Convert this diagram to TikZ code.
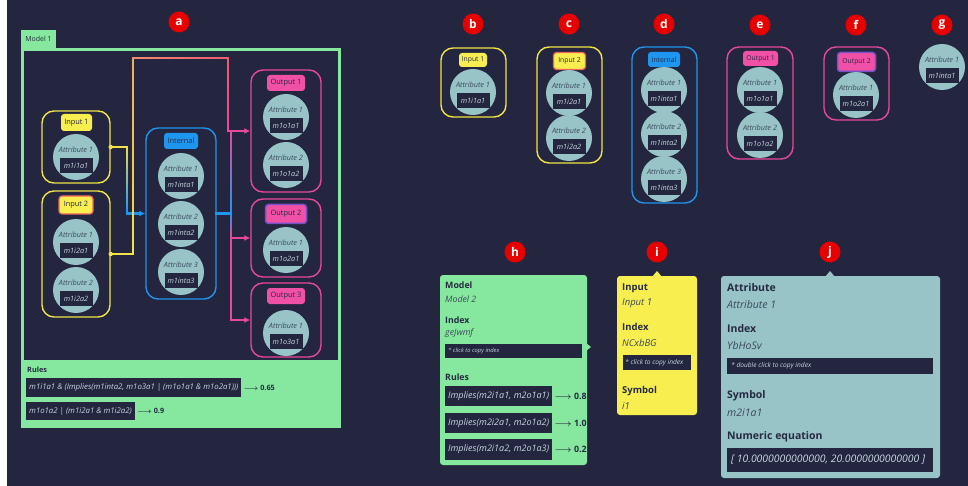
\documentclass[tikz,border=0pt]{standalone}
\usepackage{amsmath}
\usepackage{fontspec}
\setmainfont{Open Sans}
\usetikzlibrary{calc,arrows.meta}
\definecolor{bg}{RGB}{35,38,62}
\definecolor{grn}{RGB}{134,232,158}
\definecolor{yel}{RGB}{240,228,70}
\definecolor{yelf}{RGB}{248,238,80}
\definecolor{salm}{RGB}{240,100,95}
\definecolor{pnk}{RGB}{232,72,152}
\definecolor{pnkf}{RGB}{240,80,165}
\definecolor{purp}{RGB}{120,80,200}
\definecolor{blu}{RGB}{30,150,240}
\definecolor{org}{RGB}{245,170,95}
\definecolor{att}{RGB}{152,196,200}
\definecolor{lite}{RGB}{200,215,225}
\definecolor{txd}{RGB}{38,42,66}
\definecolor{txi}{RGB}{60,72,92}
\definecolor{redl}{RGB}{230,0,0}
\newcommand\gradseg[4]{%
  \foreach \k in {1,...,14}{%
    \pgfmathsetmacro\pc{100-(\k-0.5)*100/14}%
    \draw[conn,draw={#3!\pc!#4}] ($#1!{(\k-1)/14}!#2$) -- ($#1!{\k/14}!#2$);
  }}
\newcommand\attrnode[5]{%
  \node[attr] (#1) at (#2,#3) {};
  \node[attrlab] (#1l) at ([yshift=7.5pt]#1.center) {#4};
  \node[valbox] (#1v) at ([yshift=-8.5pt]#1.center) {#5};}
\newcommand\larr{$\boldsymbol{\longrightarrow}$}
\begin{document}
\begin{tikzpicture}[x=1pt,y=-1pt,
  grp/.style={draw, line width=1.4pt, rounded corners=12pt, inner sep=0},
  pill/.style={rounded corners=3pt, inner sep=0, font=\fontsize{7.4}{8}\selectfont, text=txd},
  attr/.style={circle, fill=att, minimum size=46pt, inner sep=0},
  attrlab/.style={font=\fontsize{7.3}{8}\selectfont\itshape, text=txi, inner sep=0},
  valbox/.style={fill=bg, text=lite, font=\fontsize{7.3}{8}\selectfont\itshape, minimum width=33pt, minimum height=15pt, inner sep=0},
  conn/.style={line width=2.6pt, line cap=rect},
  tip/.style={-{Latex[length=6pt,width=6pt]}},
  badge/.style={circle, fill=redl, text=white, font=\bfseries\fontsize{12}{12}\selectfont, minimum size=21pt, inner sep=0},
  rulebox/.style={fill=bg, text=lite, anchor=west, inner xsep=3pt, inner ysep=0pt},
  hd/.style={anchor=west, inner sep=0, text=txd, font=\bfseries\fontsize{#1}{#1}\selectfont},
  hv/.style={anchor=west, inner sep=0, text=txi, font=\itshape\fontsize{#1}{#1}\selectfont},
  sm/.style={anchor=west, inner sep=0, text=lite, font=\itshape\fontsize{#1}{#1}\selectfont},
  arr/.style={anchor=west, inner xsep=2pt, text=txd, font=\bfseries\fontsize{#1}{#1}\selectfont}]
\useasboundingbox (0,0) rectangle (968,486);
\fill[white] (0,0) rectangle (968,486);
\fill[bg] (7,0) rectangle (968,486);

% ---------- badges
\node[badge] (ba) at (179,22) {a};
\node[badge] (bb) at (473,24) {b};
\node[badge] (bc) at (569,24) {c};
\node[badge] (bd) at (664,24) {d};
\node[badge] (be) at (760,25) {e};
\node[badge] (bf) at (856,25) {f};
\node[badge] (bg) at (942,25) {g};
\node[badge] (bh) at (515,252) {h};
\node[badge] (bi) at (657,252) {i};
\node[badge] (bj) at (830,252) {j};

% ---------- panel a frame
\node[fill=grn, minimum width=35pt, minimum height=18pt, inner sep=0, text=txd, font=\fontsize{7}{8}\selectfont] (tab) at (38.5,39) {Model 1};
\node[fill=grn, minimum width=320pt, minimum height=380pt, inner sep=0] (frame) at (181,238) {};
\node[fill=bg, minimum width=314pt, minimum height=309pt, inner sep=0] (canva) at (181,205.5) {};
\node[hd=7.3] (rulesl) at (27,370) {Rules};
\node[rulebox, minimum height=19pt, font=\itshape\fontsize{7.8}{8}\selectfont] (r1) at (26,387.5) {m1i1a1 \& (Implies(m1inta2, m1o3a1 | (m1o1a1 \& m1o2a1)))};
\node[arr=7.3] (r1v) at (r1.east) {\larr{} 0.65};
\node[rulebox, minimum height=18pt, font=\itshape\fontsize{7.8}{8}\selectfont] (r2) at (26,411) {m1o1a2 | (m1i2a1 \& m1i2a2)};
\node[arr=7.3] (r2v) at (r2.east) {\larr{} 0.9};

% ---------- panel a groups
\node[grp, draw=yel, minimum width=68pt, minimum height=72pt] (in1) at (76,147) {};
\node[grp, draw=yel, minimum width=68pt, minimum height=126pt] (in2) at (76,254) {};
\node[grp, draw=blu, minimum width=70pt, minimum height=171pt] (int) at (181,213.5) {};
\node[grp, draw=pnk, minimum width=70pt, minimum height=122pt] (out1) at (286,131) {};
\node[grp, draw=pnk, minimum width=70pt, minimum height=78pt] (out2) at (286,238) {};
\node[grp, draw=pnk, minimum width=70pt, minimum height=74pt] (out3) at (286,320) {};

\node[pill, fill=yelf, minimum width=31pt, minimum height=17pt] (in1p) at (76.5,122.5) {Input 1};
\node[pill, fill=yelf, draw=salm, line width=1.2pt, minimum width=34pt, minimum height=18pt] (in2p) at (76,205) {Input 2};
\node[pill, fill=blu, minimum width=34pt, minimum height=16pt] (intp) at (181,141) {Internal};
\node[pill, fill=pnkf, minimum width=38pt, minimum height=16pt] (out1p) at (286,83) {Output 1};
\node[pill, fill=pnkf, draw=purp, line width=1.5pt, minimum width=41pt, minimum height=19pt] (out2p) at (286,214) {Output 2};
\node[pill, fill=pnkf, minimum width=38pt, minimum height=16pt] (out3p) at (286,296) {Output 3};

\attrnode{a11}{76}{157}{Attribute 1}{m1i1a1}
\attrnode{a21}{76}{242}{Attribute 1}{m1i2a1}
\attrnode{a22}{76}{290}{Attribute 2}{m1i2a2}
\attrnode{ai1}{181}{176}{Attribute 1}{m1inta1}
\attrnode{ai2}{181}{224}{Attribute 2}{m1inta2}
\attrnode{ai3}{181}{272}{Attribute 3}{m1inta3}
\attrnode{ao11}{286}{117}{Attribute 1}{m1o1a1}
\attrnode{ao12}{286}{165}{Attribute 2}{m1o1a2}
\attrnode{ao21}{286}{250}{Attribute 1}{m1o2a1}
\attrnode{ao31}{286}{333}{Attribute 1}{m1o3a1}

% ---------- connectors panel a
\coordinate (c1a) at (127,0 |- in1.east);
\coordinate (c1b) at (127,0 |- int.west);
\draw[conn, yel] (in1.east) -- (c1a);
\gradseg{(c1a)}{(c1b)}{yel}{blu}
\draw[conn, blu, tip] (c1b) -- (int.west);
\fill[yel] (in1.east) circle (2.2);

\coordinate (c2a) at (133,0 |- in2.east);
\coordinate (c2b) at (133,58);
\coordinate (c2c) at (228,58);
\coordinate (c2d) at (228,0 |- out1.west);
\draw[conn, yel] (in2.east) -- (c2a);
\gradseg{(c2a)}{(c2b)}{yel}{org}
\gradseg{(c2b)}{(c2c)}{org}{salm!70!pnk}
\gradseg{(c2c)}{(c2d)}{salm!70!pnk}{pnk}
\fill[yel] (in2.east) circle (2.2);

\coordinate (c3a) at (231,0 |- int.east);
\coordinate (c3b) at (231,0 |- out1.west);
\coordinate (c3c) at (231,0 |- out2.west);
\coordinate (c3d) at (231,0 |- out3.west);
\draw[conn, blu] (int.east) -- (c3a);
\gradseg{(c3a)}{(c3b)}{blu}{pnk}
\gradseg{(c3a)}{(c3c)}{blu}{pnk}
\draw[conn, pnk] (c3c) -- (c3d);
\draw[conn, pnk, tip] (c2d) -- (out1.west);
\draw[conn, pnk, tip] (c3c) -- (out2.west);
\draw[conn, pnk, tip] (c3d) -- (out3.west);

% ---------- panels b-g
\node[grp, draw=yel, minimum width=65pt, minimum height=69pt] (b) at (473.5,82.5) {};
\node[pill, fill=yelf, minimum width=28pt, minimum height=14pt, font=\fontsize{6.8}{7}\selectfont] (bp) at (473,60) {Input 1};
\attrnode{b1}{473}{92}{Attribute 1}{m1i1a1}

\node[grp, draw=yel, minimum width=65pt, minimum height=116pt] (c) at (569.5,105) {};
\node[pill, fill=yelf, draw=salm, line width=1.2pt, minimum width=32pt, minimum height=17pt, font=\fontsize{6.8}{7}\selectfont] (cp) at (569.5,61) {Input 2};
\attrnode{c1}{569}{93}{Attribute 1}{m1i2a1}
\attrnode{c2}{569}{138}{Attribute 2}{m1i2a2}

\node[grp, draw=blu, minimum width=65pt, minimum height=156pt] (d) at (664.5,125) {};
\node[pill, fill=blu, minimum width=32pt, minimum height=15pt, font=\fontsize{6.8}{7}\selectfont] (dp) at (664,59.5) {Internal};
\attrnode{d1}{664}{90}{Attribute 1}{m1inta1}
\attrnode{d2}{664}{134}{Attribute 2}{m1inta2}
\attrnode{d3}{664}{179}{Attribute 3}{m1inta3}

\node[grp, draw=pnk, minimum width=66pt, minimum height=112pt] (e) at (760,103) {};
\node[pill, fill=pnkf, minimum width=35pt, minimum height=15pt, font=\fontsize{6.8}{7}\selectfont] (ep) at (760.5,58.5) {Output 1};
\attrnode{e1}{760}{90}{Attribute 1}{m1o1a1}
\attrnode{e2}{760}{135}{Attribute 2}{m1o1a2}

\node[grp, draw=pnk, minimum width=65pt, minimum height=73pt] (f) at (856.5,83.5) {};
\node[pill, fill=pnkf, draw=purp, line width=1.5pt, minimum width=38pt, minimum height=19pt, font=\fontsize{6.8}{7}\selectfont] (fp) at (856.5,62) {Output 2};
\attrnode{f1}{856}{95}{Attribute 1}{m1o2a1}

\attrnode{g1}{942}{67}{Attribute 1}{m1inta1}

% ---------- panel h
\node[fill=grn, rounded corners=3pt, minimum width=147pt, minimum height=190pt, inner sep=0] (hbox) at (513.5,370) {};
\coordinate (hp) at (587,347);
\fill[grn] ($(hp)+(-1,-4)$) -- ($(hp)+(4,0)$) -- ($(hp)+(-1,4)$) -- cycle;
\node[hd=8.8] (h1) at (445,285) {Model};
\node[hv=8.8] (h2) at (445,299) {Model 2};
\node[hd=8.8] (h3) at (445,320) {Index};
\node[hv=8.8] (h4) at (445,333) {geJwmf};
\node[fill=bg, minimum width=137pt, minimum height=14pt, inner sep=0] (h5) at (513.5,351) {};
\node[sm=5.8] (h5t) at (448,351) {* click to copy index};
\node[hd=8.8] (h6) at (445,377) {Rules};
\node[rulebox, minimum height=20pt, font=\itshape\fontsize{9}{9}\selectfont] (hr1) at (445,396) {Implies(m2i1a1, m2o1a1)};
\node[arr=8.8] (hr1v) at (hr1.east) {\larr{} 0.8};
\node[rulebox, minimum height=20pt, font=\itshape\fontsize{9}{9}\selectfont] (hr2) at (445,423) {Implies(m2i2a1, m2o1a2)};
\node[arr=8.8] (hr2v) at (hr2.east) {\larr{} 1.0};
\node[rulebox, minimum height=21pt, font=\itshape\fontsize{9}{9}\selectfont] (hr3) at (445,449.5) {Implies(m2i1a2, m2o1a3)};
\node[arr=8.8] (hr3v) at (hr3.east) {\larr{} 0.2};

% ---------- panel i
\node[fill=yelf, rounded corners=3pt, minimum width=80pt, minimum height=139pt, inner sep=0] (ibox) at (657,345.5) {};
\fill[yelf] (652,277) -- (657,271) -- (662,277) -- cycle;
\node[hd=9.5] (i1) at (622,288) {Input};
\node[hv=9.5] (i2) at (622,303) {Input 1};
\node[hd=9.5] (i3) at (622,327) {Index};
\node[hv=9.5] (i4) at (622,343) {NCxbBG};
\node[fill=bg, minimum width=68pt, minimum height=15pt, inner sep=0] (i5) at (657,362.5) {};
\begin{scope}
\clip (623,355) rectangle (691,370);
\node[sm=6.6] (i5t) at (625,362.5) {* click to copy index};
\end{scope}
\node[hd=9.5] (i6) at (622,391) {Symbol};
\node[hv=9.5] (i7) at (622,406) {i1};

% ---------- panel j
\node[fill=att, rounded corners=3pt, minimum width=219pt, minimum height=202pt, inner sep=0] (jbox) at (830.5,377) {};
\fill[att] (825,277) -- (830,271) -- (835,277) -- cycle;
\node[hd=10.5] (j1) at (727,288) {Attribute};
\node[hv=10.5] (j2) at (727,305) {Attribute 1};
\node[hd=10.5] (j3) at (727,329) {Index};
\node[hv=10.5] (j4) at (727,346) {YbHoSv};
\node[fill=bg, minimum width=206pt, minimum height=16pt, inner sep=0] (j5) at (830,366) {};
\node[sm=6.6] (j5t) at (731,366) {* double click to copy index};
\node[hd=10.5] (j6) at (727,396) {Symbol};
\node[hv=10.5] (j7) at (727,413) {m2i1a1};
\node[hd=10.5] (j8) at (727,437) {Numeric equation};
\node[fill=bg, minimum width=206pt, minimum height=24pt, inner sep=0] (j9) at (830,460) {};
\node[sm=10.4] (j9t) at (731,460) {[ 10.0000000000000, 20.0000000000000 ]};
\end{tikzpicture}
\end{document}
